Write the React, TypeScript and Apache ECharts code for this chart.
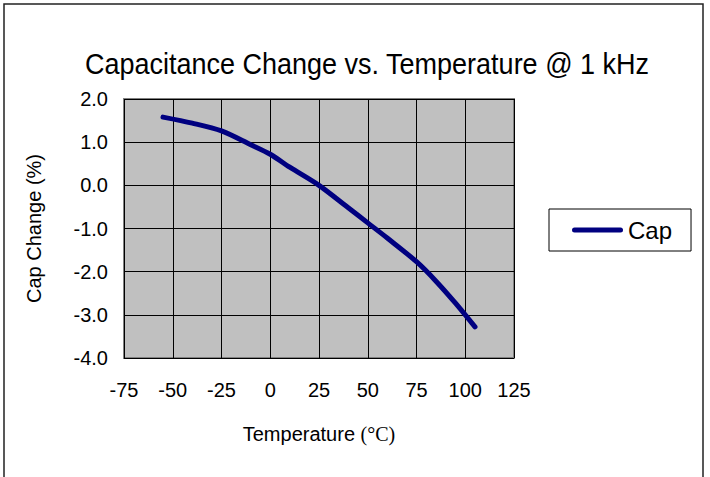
import React, { useEffect, useRef } from "react";
import * as echarts from "echarts";

const temperatures = [-55, -40, -25, -10, 0, 10, 25, 40, 50, 60, 75, 85, 95, 105];
const capChange = [1.58, 1.44, 1.26, 0.94, 0.72, 0.42, 0.0, -0.52, -0.87, -1.22, -1.77, -2.22, -2.73, -3.28];
const seriesName = "Cap";
const titleText = "Capacitance Change vs. Temperature @ 1 kHz";
const yAxisName = "Cap Change (%)";

const FONT = "'Liberation Sans', Arial, sans-serif";

export default function App() {
  const ref = useRef<HTMLDivElement>(null);
  useEffect(() => {
    if (!ref.current) return;
    const chart = echarts.init(ref.current, undefined, { renderer: "svg" });
    const data = temperatures.map((t, i) => [t, capChange[i]]);
    chart.setOption({
      animation: false,
      backgroundColor: "#ffffff",
      textStyle: { fontFamily: FONT },
      graphic: [
        {
          type: "rect",
          shape: { x: 4, y: 4, width: 699, height: 520 },
          style: { fill: "none", stroke: "#222", lineWidth: 1.5 },
          silent: true,
          z: 100,
        },
        {
          type: "text",
          x: 367,
          y: 64,
          scaleY: 1.08,
          style: {
            text: titleText,
            fontSize: 27,
            fontFamily: FONT,
            fill: "#000",
            align: "center",
            verticalAlign: "middle",
          },
        },
      ],
      legend: {
        left: 549,
        top: 209,
        orient: "vertical",
        borderColor: "#000",
        borderWidth: 1,
        borderRadius: 0,
        padding: [9, 19, 9, 23],
        itemWidth: 51,
        itemHeight: 5,
        icon: "path://M2.5,0 L48.5,0 A2.5,2.5 0 0 1 48.5,5 L2.5,5 A2.5,2.5 0 0 1 2.5,0 Z",
        textStyle: { fontSize: 24, color: "#000", fontFamily: FONT },
        data: [seriesName],
      },
      grid: {
        left: 124,
        top: 99,
        width: 390,
        height: 259,
        show: true,
        backgroundColor: "#C0C0C0",
        borderColor: "#808080",
        borderWidth: 2,
      },
      xAxis: {
        type: "value",
        min: -75,
        max: 125,
        interval: 25,
        axisLine: { show: false },
        axisTick: { show: false },
        splitLine: { show: true, lineStyle: { color: "#000", width: 1 } },
        axisLabel: { fontSize: 20, color: "#000", margin: 22, fontFamily: FONT },
        name: "{a|Temperature }{b|(°C)}",
        nameLocation: "middle",
        nameGap: 66,
        nameTextStyle: {
          rich: {
            a: { fontSize: 20, fontFamily: FONT, color: "#000" },
            b: { fontSize: 20, fontFamily: "'Liberation Serif', 'Times New Roman', serif", color: "#000" },
          },
        },
      },
      yAxis: {
        type: "value",
        min: -4,
        max: 2,
        interval: 1,
        axisLine: { show: false },
        axisTick: { show: false },
        splitLine: { show: true, lineStyle: { color: "#000", width: 1 } },
        axisLabel: {
          fontSize: 20,
          color: "#000",
          margin: 16,
          fontFamily: FONT,
          formatter: (v: number) => v.toFixed(1),
        },
        name: yAxisName,
        nameLocation: "middle",
        nameGap: 80,
        nameTextStyle: { fontSize: 20, color: "#000", fontFamily: FONT },
      },
      series: [
        {
          name: seriesName,
          type: "line",
          data,
          showSymbol: false,
          symbol: "none",
          smooth: 0.3,
          lineStyle: { color: "#000080", width: 5, cap: "round", join: "round" },
          itemStyle: { color: "#000080" },
        },
      ],
    });
    return () => chart.dispose();
  }, []);
  return (
    <div
      ref={ref}
      style={{ position: "fixed", left: 0, top: 0, width: 710, height: 477 }}
    />
  );
}
